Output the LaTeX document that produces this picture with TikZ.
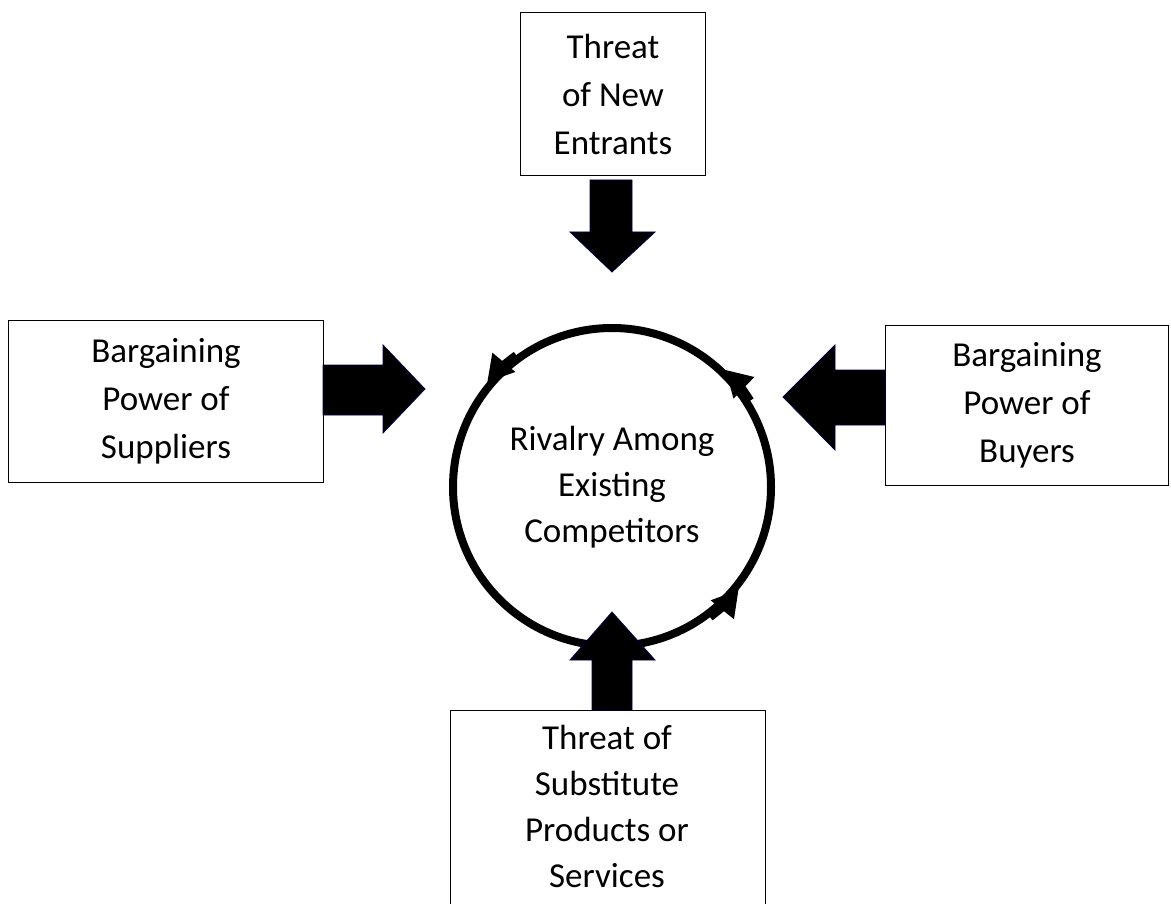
\documentclass[tikz,border=0pt]{standalone}
\usepackage{fontspec}
\setmainfont{Carlito}
\usetikzlibrary{arrows.meta}
\begin{document}
\begin{tikzpicture}[x=1pt,y=-1pt,
  box/.style={draw,line width=1pt,align=center,font=\fontsize{35}{48}\selectfont,anchor=north west,inner sep=0pt},
  blk/.style={fill=black,draw=black!70!blue,line width=0.8pt}]
\useasboundingbox (0,0) rectangle (1171,904);
% boxes
\node[box,minimum width=185,minimum height=163] (top) at (520,12) {Threat\\of New\\Entrants};
\node[box,minimum width=315,minimum height=162] (left) at (8,320) {Bargaining\\Power of\\Suppliers};
\node[box,minimum width=283,minimum height=160] (right) at (885,325) {Bargaining\\Power of\\Buyers};
\node[box,minimum width=315,minimum height=210] (bot) at (450,710) {};
\node[font=\fontsize{35}{46}\selectfont,align=center,anchor=north] (bt) at (607,722) {Threat of\\Substitute\\Products or\\Services};
% circle
\node[circle,draw,line width=8pt,minimum size=318,font=\fontsize{35}{46}\selectfont,align=center] (c) at (612,487) {Rivalry Among\\Existing\\Competitors};
\foreach \a in {140,46,-39}{
  \draw[line width=8pt,-{Triangle[length=26pt,width=28pt]}] (612,487) ++(-\a+14:163) arc[start angle=-\a+14,end angle=-\a,radius=163];
}
% block arrows
\draw[blk] (590,180)--(632,180)--(632,232)--(655,232)--(612,272)--(570,232)--(590,232)--cycle;
\draw[blk] (323,365)--(383,365)--(383,345)--(425,389)--(383,433)--(383,415)--(323,415)--cycle;
\draw[blk] (885,370)--(835,370)--(835,345)--(783,397)--(835,450)--(835,425)--(885,425)--cycle;
\draw[blk] (592,710)--(632,710)--(632,660)--(655,660)--(612,612)--(570,660)--(592,660)--cycle;
\end{tikzpicture}
\end{document}
